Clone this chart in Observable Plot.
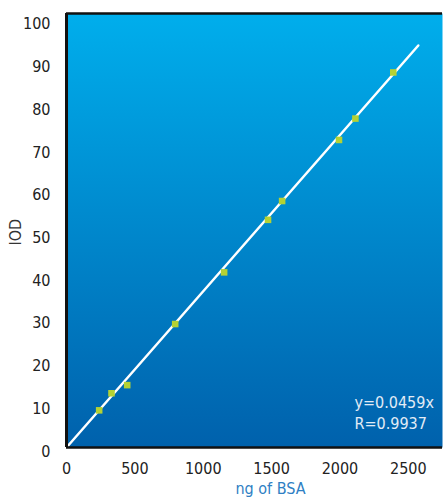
<!DOCTYPE html>
<html>
<head>
<meta charset="utf-8">
<script src="https://cdn.jsdelivr.net/npm/d3@7"></script>
<script src="https://cdn.jsdelivr.net/npm/@observablehq/plot@0.6"></script>
<style>
  html, body { margin: 0; padding: 0; background: #fff; }
  #chart svg { display: block; }
</style>
</head>
<body>
<div id="chart"></div>
<script>
// Data
const bsaNg = [239, 329, 444, 795, 1153, 1474, 1577, 1993, 2113, 2390];
const iod   = [8.7, 12.7, 14.6, 28.9, 41.0, 53.3, 57.7, 72.0, 77.0, 87.8];
const fitX = [0, 2573];
const fitY = [0, 94.1];
const xTicks = [0, 500, 1000, 1500, 2000, 2500];
const yTicks = [0, 10, 20, 30, 40, 50, 60, 70, 80, 90, 100];
const eqLines = ["y=0.0459x", "R=0.9937"];
const xTitle = "ng of BSA";
const yTitle = "IOD";

const points = bsaNg.map((x, i) => ({x, y: iod[i]}));
const fit = fitX.map((x, i) => ({x, y: fitY[i]}));

const FONT = "'Liberation Sans Narrow', 'DejaVu Sans Condensed', 'Roboto', sans-serif";
const yMax = 101.6;

const chart = Plot.plot({
  width: 443,
  height: 497,
  marginLeft: 66,
  marginRight: 1,
  marginTop: 13,
  marginBottom: 50,
  style: {fontFamily: FONT, fontSize: "16px", background: "#fff", fontStretch: "condensed"},
  x: {domain: [0, 2750]},
  y: {domain: [0, yMax]},
  marks: [
    Plot.frame({fill: "url(#bgGrad)", stroke: "none"}),
    Plot.axisX(xTicks, {tickSize: 0, tickPadding: 15, fontSize: 16, fill: "#222", label: null, tickFormat: d => String(d)}),
    Plot.axisY(yTicks, {tickSize: 0, tickPadding: 16, dy: 4, fontSize: 16, fill: "#222", label: null, tickFormat: d => String(d)}),
    Plot.line(fit, {x: "x", y: "y", stroke: "white", strokeWidth: 2.5}),
    Plot.dot(points, {x: "x", y: "y", symbol: "square", r: 3.7, fill: "#b4d234", stroke: "none"}),
    Plot.ruleX([0], {stroke: "#111", strokeWidth: 3}),
    Plot.ruleY([0, yMax], {stroke: "#111", strokeWidth: 2.5}),
    Plot.text([eqLines.join("\n")], {frameAnchor: "bottom-right", textAnchor: "start", lineAnchor: "middle",
      dx: -88, dy: -36, lineHeight: 1.35, fill: "#e2ecf6", fontSize: 16}),
    Plot.text([xTitle], {frameAnchor: "bottom", lineAnchor: "bottom", dx: 16, dy: 46, fill: "#2f7fc4", fontSize: 16}),
    Plot.text([yTitle], {frameAnchor: "left", rotate: -90, dx: -51, dy: 15, fill: "#333", fontSize: 16})
  ]
});

const defs = d3.select(chart).insert("defs", ":first-child");
const grad = defs.append("linearGradient").attr("id", "bgGrad")
  .attr("x1", 0).attr("y1", 0).attr("x2", 0).attr("y2", 1);
grad.append("stop").attr("offset", "0%").attr("stop-color", "#00aeec");
grad.append("stop").attr("offset", "100%").attr("stop-color", "#0061ac");

document.getElementById("chart").appendChild(chart);
</script>
</body>
</html>
